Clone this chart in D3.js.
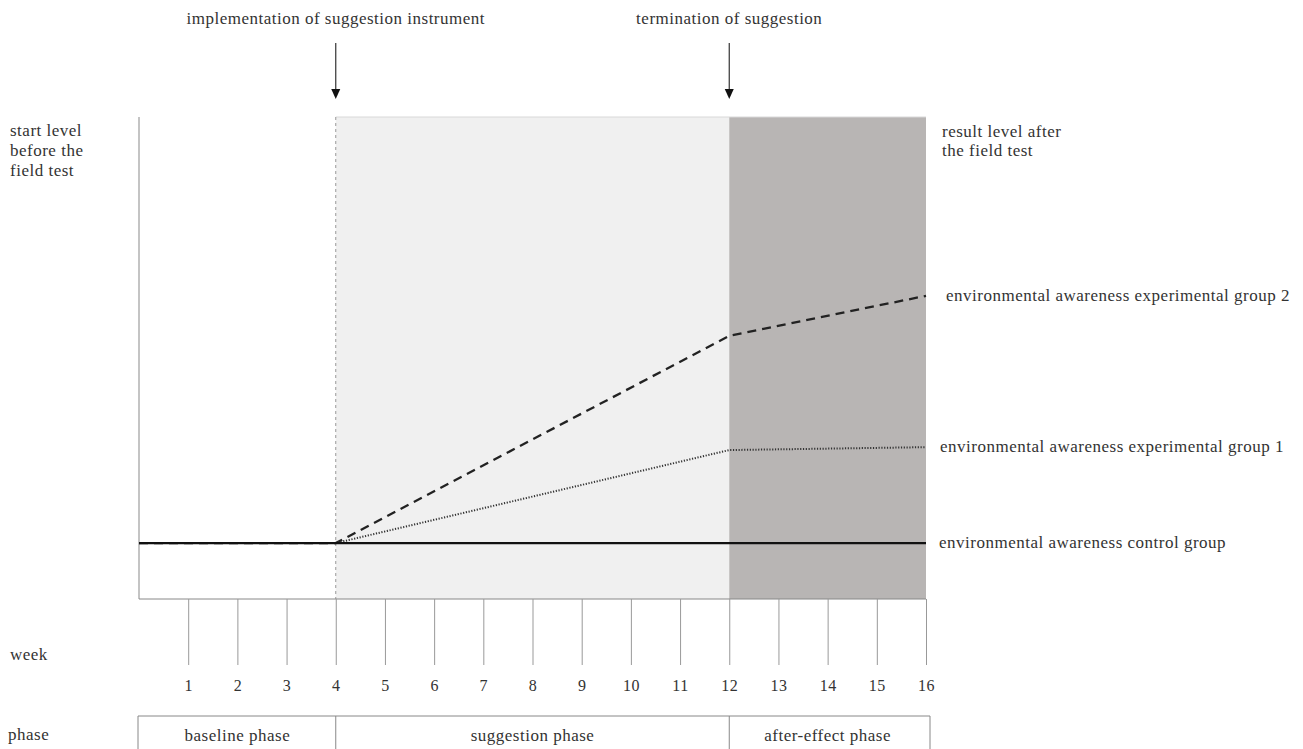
<!DOCTYPE html>
<html><head><meta charset="utf-8">
<script src="https://cdn.jsdelivr.net/npm/d3@7"></script>
<style>body{margin:0;background:#fff}svg text{font-family:"Liberation Serif","Times New Roman",serif;fill:#333;letter-spacing:0.5px}</style>
</head><body><svg id="c" width="1303" height="749"></svg>
<script>
const weeks = [1,2,3,4,5,6,7,8,9,10,11,12,13,14,15,16];
const pointWeeks = [0,4,12,16];
const controlGroup = [11.6,11.6,11.6,11.6];
const experimentalGroup1 = [11.6,11.6,30.9,31.5];
const experimentalGroup2 = [11.6,11.6,54.6,62.9];
const phases = [
  {name:"baseline phase", start:0, end:4},
  {name:"suggestion phase", start:4, end:12},
  {name:"after-effect phase", start:12, end:16}
];
const events = [
  {week:4, label:"implementation of suggestion instrument"},
  {week:12, label:"termination of suggestion"}
];
const seriesLabels = [
  {label:"environmental awareness experimental group 2", values:experimentalGroup2, dx:20},
  {label:"environmental awareness experimental group 1", values:experimentalGroup1, dx:14},
  {label:"environmental awareness control group", values:controlGroup, dx:13}
];
const startLabel = ["start level","before the","field test"];
const resultLabel = ["result level after","the field test"];

const FS = 17;
const svg = d3.select("#c");
const x = d3.scaleLinear().domain([0,16]).range([139,926]);
const y = d3.scaleLinear().domain([0,100]).range([599,117]);

// shaded phases
svg.append("rect").attr("x",x(4)).attr("y",y(100)).attr("width",x(12)-x(4)).attr("height",y(0)-y(100)).attr("fill","#f0f0f0");
svg.append("rect").attr("x",x(12)).attr("y",y(100)).attr("width",x(16)-x(12)).attr("height",y(0)-y(100)).attr("fill","#b8b5b4");
svg.append("line").attr("x1",x(4)).attr("x2",x(16)).attr("y1",y(100)).attr("y2",y(100)).attr("stroke","#d8d8d8");
// dashed divider at week 4
svg.append("line").attr("x1",x(4)).attr("x2",x(4)).attr("y1",y(100)).attr("y2",y(0)).attr("stroke","#999").attr("stroke-dasharray","3,3");
// axes frame
svg.append("line").attr("x1",x(0)).attr("x2",x(0)).attr("y1",y(100)).attr("y2",y(0)).attr("stroke","#b0b0b0").attr("stroke-width",1.5);
svg.append("line").attr("x1",x(0)).attr("x2",x(16)).attr("y1",y(0)).attr("y2",y(0)).attr("stroke","#888");

// week axis
const xAxis = d3.axisBottom(x).tickValues(weeks).tickSize(66).tickPadding(15).tickFormat(d3.format("d"));
const ax = svg.append("g").attr("transform",`translate(0,${y(0)})`).call(xAxis);
ax.select(".domain").remove();
ax.selectAll(".tick line").attr("stroke","#999");
ax.selectAll(".tick text").attr("font-size",16).style("fill","#333").attr("font-family","Liberation Serif");

// lines
const line = d3.line().x((d,i)=>x(pointWeeks[i])).y(d=>y(d));
svg.append("path").datum(experimentalGroup2).attr("d",line).attr("fill","none").attr("stroke","#222").attr("stroke-width",2.3).attr("stroke-dasharray","9,6");
svg.append("path").datum(experimentalGroup1).attr("d",line).attr("fill","none").attr("stroke","#333").attr("stroke-width",2).attr("stroke-dasharray","1.2,1.6");
svg.append("path").datum(controlGroup).attr("d",line).attr("fill","none").attr("stroke","#111").attr("stroke-width",2.3);

// series labels
svg.selectAll(".sl").data(seriesLabels).join("text")
  .attr("x",d=>x(16)+d.dx).attr("y",d=>y(d.values[3])+5).attr("font-size",FS).text(d=>d.label);

// side labels
const sl = svg.append("text").attr("x",10).attr("y",136).attr("font-size",FS);
startLabel.forEach((t,i)=>sl.append("tspan").attr("x",10).attr("dy",i?20:0).text(t));
const rl = svg.append("text").attr("x",942).attr("y",137).attr("font-size",FS);
resultLabel.forEach((t,i)=>rl.append("tspan").attr("x",942).attr("dy",i?19:0).text(t));

// event annotations
events.forEach(e=>{
  svg.append("text").attr("x",x(e.week)).attr("y",24).attr("text-anchor","middle").attr("font-size",FS).text(e.label);
  svg.append("line").attr("x1",x(e.week)).attr("x2",x(e.week)).attr("y1",43).attr("y2",92).attr("stroke","#333").attr("stroke-width",1.2);
  svg.append("path").attr("d",`M${x(e.week)-4.5},89L${x(e.week)+4.5},89L${x(e.week)},99Z`).attr("fill","#111");
});

// row labels
svg.append("text").attr("x",10).attr("y",660).attr("font-size",FS).text("week");
svg.append("text").attr("x",8).attr("y",740).attr("font-size",FS).text("phase");

// phase boxes
const pb = svg.append("g");
pb.append("line").attr("x1",x(0)-1).attr("x2",x(16)+4).attr("y1",716).attr("y2",716).attr("stroke","#888");
[0,4,12].forEach(w=>pb.append("line").attr("x1",w===0?x(0)-1:x(w)).attr("x2",w===0?x(0)-1:x(w)).attr("y1",716).attr("y2",749).attr("stroke","#888"));
pb.append("line").attr("x1",x(16)+4).attr("x2",x(16)+4).attr("y1",716).attr("y2",749).attr("stroke","#888");
pb.selectAll("text").data(phases).join("text").attr("x",d=>(x(d.start)+x(d.end))/2).attr("y",741)
  .attr("text-anchor","middle").attr("font-size",FS).text(d=>d.name);
</script></body></html>
